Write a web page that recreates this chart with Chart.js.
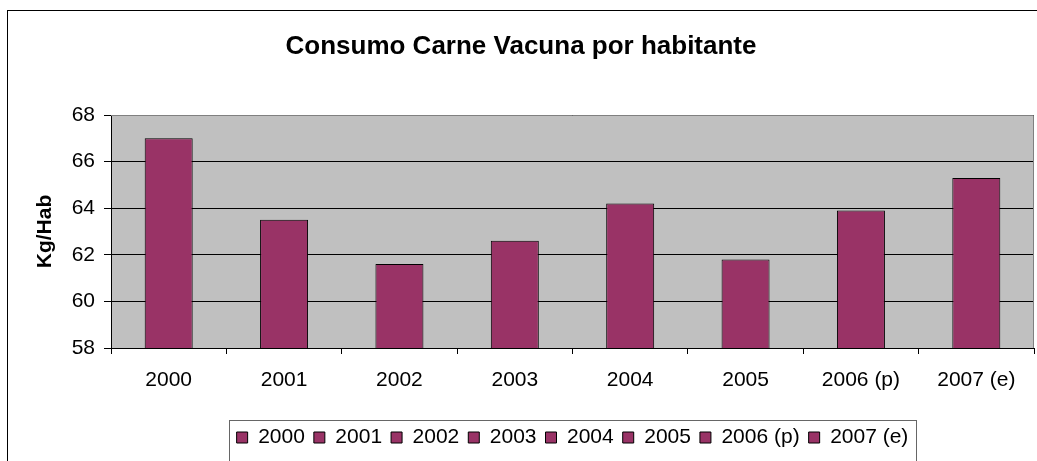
<!DOCTYPE html>
<html>
<head>
<meta charset="utf-8">
<script src="https://cdn.jsdelivr.net/npm/chart.js@4"></script>
<style>
  body { margin: 0; background: #fff; overflow: hidden; }
</style>
</head>
<body>
<canvas id="bar-chart" width="1037" height="461"></canvas>
<script>
const years = ["2000", "2001", "2002", "2003", "2004", "2005", "2006 (p)", "2007 (e)"];
const kgPorHab = [67.0, 63.5, 61.6, 62.6, 64.2, 61.8, 63.9, 65.3];
const yTicks = [58, 60, 62, 64, 66, 68];

const FONT = "'Liberation Sans', Arial, sans-serif";
const MAROON = "#993366";

// fondo gris, marco del area y marco exterior
const excelLook = {
  id: "excelLook",
  beforeDraw(chart) {
    const { ctx, chartArea: a } = chart;
    ctx.save();
    ctx.fillStyle = "#fff";
    ctx.fillRect(0, 0, chart.width, chart.height);
    ctx.fillStyle = "#C0C0C0";
    ctx.fillRect(a.left, a.top, a.right - a.left, a.bottom - a.top);
    ctx.strokeStyle = "#000";
    ctx.lineWidth = 1;
    ctx.strokeRect(7.5, 10.5, 1100, 600);
    ctx.restore();
  },
  afterDatasetsDraw(chart) {
    const { ctx, chartArea: a } = chart;
    ctx.save();
    ctx.strokeStyle = "#808080";
    ctx.lineWidth = 1;
    ctx.beginPath();
    ctx.moveTo(a.left, Math.round(a.top) + 0.5);
    ctx.lineTo(Math.round(a.right) - 0.5, Math.round(a.top) + 0.5);
    ctx.lineTo(Math.round(a.right) - 0.5, a.bottom);
    ctx.stroke();
    ctx.restore();
  },
  afterDraw(chart) {
    const hb = chart.legend.legendHitBoxes;
    if (!hb || !hb.length) return;
    const last = hb[hb.length - 1];
    const left = Math.round(hb[0].left - 8) + 0.5;
    const right = Math.round(last.left + last.width + 8) + 0.5;
    const top = Math.round(chart.legend.top + 2) + 0.5;
    const { ctx } = chart;
    ctx.save();
    ctx.strokeStyle = "#666";
    ctx.lineWidth = 1;
    ctx.strokeRect(left, top, right - left, 100);
    ctx.restore();
  }
};

new Chart(document.getElementById("bar-chart"), {
  type: "bar",
  data: {
    labels: years,
    datasets: [{
      label: "Kg/Hab",
      data: kgPorHab,
      backgroundColor: MAROON,
      borderColor: "#000",
      borderWidth: 1,
      categoryPercentage: 1,
      barPercentage: 0.416
    }]
  },
  options: {
    responsive: false,
    animation: false,
    layout: { padding: { left: 8, right: 3, top: 0, bottom: 3 } },
    plugins: {
      title: {
        display: true,
        text: "Consumo Carne Vacuna por habitante",
        color: "#000",
        font: { family: FONT, size: 26, weight: "bold" },
        padding: { top: 31.4, bottom: 52.4 }
      },
      legend: {
        position: "bottom",
        fullSize: false,
        labels: {
          color: "#000",
          font: { family: FONT, size: 21 },
          boxWidth: 11,
          boxHeight: 11,
          padding: 9,
          generateLabels: (chart) => chart.data.labels.map((l, i) => ({
            text: l,
            fillStyle: MAROON,
            strokeStyle: "#000",
            lineWidth: 1,
            index: i,
            datasetIndex: 0
          }))
        },
        onClick: null
      },
      tooltip: { enabled: false }
    },
    scales: {
      x: {
        grid: {
          offset: true,
          drawOnChartArea: false,
          drawTicks: true,
          tickLength: 6,
          tickColor: "#000"
        },
        border: { color: "#000" },
        ticks: {
          color: "#000",
          font: { family: FONT, size: 21 },
          padding: 14,
          maxRotation: 0
        },
        afterFit(scale) { scale.height = 70; }
      },
      y: {
        min: 58,
        max: 68,
        afterBuildTicks(scale) { scale.ticks = yTicks.map(v => ({ value: v })); },
        grid: {
          color: "#000",
          tickColor: "#000",
          tickLength: 7
        },
        border: { color: "#000" },
        ticks: {
          color: "#000",
          font: { family: FONT, size: 21 },
          padding: 9
        },
        title: {
          display: true,
          text: "Kg/Hab",
          color: "#000",
          font: { family: FONT, size: 21, weight: "bold" },
          padding: { top: 24.4, bottom: 0 }
        },
        afterFit(scale) { scale.width = 103; }
      }
    }
  },
  plugins: [excelLook]
});
</script>
</body>
</html>
